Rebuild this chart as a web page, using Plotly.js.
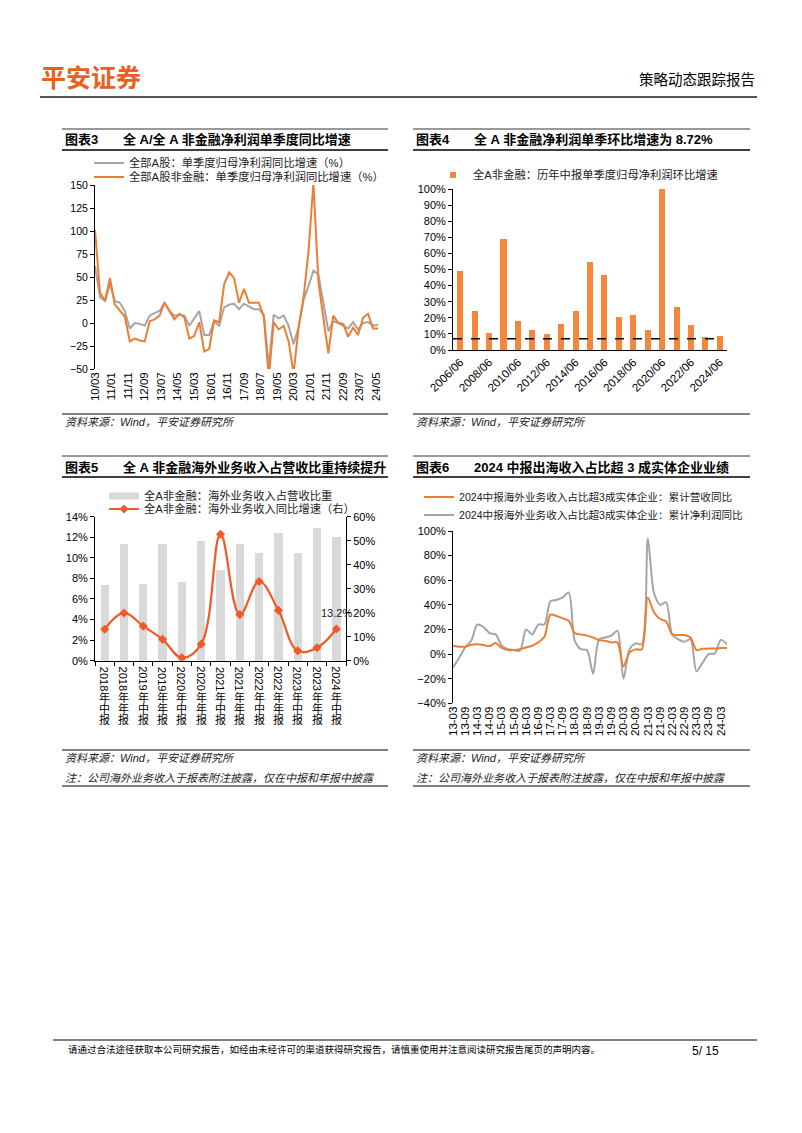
<!DOCTYPE html>
<html>
<head>
<meta charset="utf-8">
<script src="https://cdn.plot.ly/plotly-3.0.1.min.js"></script>
<style>
  body { margin: 0; background: #fff; }
  #page { width: 802px; height: 1133px; }
</style>
</head>
<body>
<div id="page"></div>
<script>
// ---- 图表3: 单季度归母净利润同比增速 (%) ----
const c3Dates = [
  '2010-03', '2010-06', '2010-09', '2010-12', '2011-03', '2011-06', '2011-09', '2011-12',
  '2012-03', '2012-06', '2012-09', '2012-12', '2013-03', '2013-06', '2013-09', '2013-12',
  '2014-03', '2014-06', '2014-09', '2014-12', '2015-03', '2015-06', '2015-09', '2015-12',
  '2016-03', '2016-06', '2016-09', '2016-12', '2017-03', '2017-06', '2017-09', '2017-12',
  '2018-03', '2018-06', '2018-09', '2018-12', '2019-03', '2019-06', '2019-09', '2019-12',
  '2020-03', '2020-06', '2020-09', '2020-12', '2021-03', '2021-06', '2021-09', '2021-12',
  '2022-03', '2022-06', '2022-09', '2022-12', '2023-03', '2023-06', '2023-09', '2023-12',
  '2024-03', '2024-06'
];
const c3AllA = [
  62, 28, 24, 42, 24, 22, 13, -6, 0, -1, -3, 8, 11, 13, 22, 13,
  8, 9, 8, -3, 5, 13, -13, -13, 2, -3, 17, 20, 21, 15, 21, 18,
  15, 15, 9, -47, 9, 5, 8, -3, -23, -5, 25, 40, 57, 53, 22, -9,
  2, 0, -3, -6, 1, -7, 0, 1, -3, -2
];
const c3NonFin = [
  101, 33, 24, 49, 20, 13, 7, -20, -17, -19, -20, 2, 4, 8, 22, 13,
  4, 10, 6, -17, -14, 1, -31, -28, 3, 1, 42, 55, 49, 22, 37, 22,
  22, 22, 7, -60, 1, -7, -3, -20, -55, -5, 28, 78, 152, 45, 5, -33,
  8, 0, -1, -15, -5, -13, 6, 10, -6, -6
];
const c3Ticks = ['10/03', '11/01', '11/11', '12/09', '13/07', '14/05', '15/03', '16/01', '16/11',
  '17/09', '18/07', '19/05', '20/03', '21/01', '21/11', '22/09', '23/07', '24/05'];
const c3Names = ['全部A股：单季度归母净利润同比增速（%）', '全部A股非金融：单季度归母净利润同比增速（%）'];

// ---- 图表4: 历年中报单季度归母净利润环比增速 ----
const c4Years = ['2006/06', '2007/06', '2008/06', '2009/06', '2010/06', '2011/06', '2012/06', '2013/06',
  '2014/06', '2015/06', '2016/06', '2017/06', '2018/06', '2019/06', '2020/06', '2021/06',
  '2022/06', '2023/06', '2024/06'];
const c4Qoq = [49, 24.5, 10.5, 69, 18.3, 12.5, 9.8, 16.3, 24.5, 54.5, 46.5, 20.2, 21.8, 12.5, 100, 26.8, 15.8, 8.0, 8.72];
const c4RefLevel = 7.0;
const c4Name = '全A非金融：历年中报单季度归母净利润环比增速';

// ---- 图表5: 海外业务收入占比 / 同比增速 ----
const c5Periods = ['2018年中报', '2018年年报', '2019年中报', '2019年年报', '2020年中报', '2020年年报',
  '2021年中报', '2021年年报', '2022年中报', '2022年年报', '2023年中报', '2023年年报', '2024年中报'];
const c5Share = [7.35, 11.3, 7.5, 11.3, 7.7, 11.6, 8.8, 11.3, 10.5, 12.4, 10.5, 12.9, 12.0];
const c5Growth = [13.1, 19.9, 14.4, 8.9, 1.2, 6.9, 52.7, 19.2, 33.0, 21.0, 4.1, 5.4, 13.2];
const c5Names = ['全A非金融：海外业务收入占营收比重', '全A非金融：海外业务收入同比增速（右）'];

// ---- 图表6: 出海收入占比超3成实体企业 ----
const c6Dates = [
  '2013-03', '2013-06', '2013-09', '2013-12', '2014-03', '2014-06', '2014-09', '2014-12',
  '2015-03', '2015-06', '2015-09', '2015-12', '2016-03', '2016-06', '2016-09', '2016-12',
  '2017-03', '2017-06', '2017-09', '2017-12', '2018-03', '2018-06', '2018-09', '2018-12',
  '2019-03', '2019-06', '2019-09', '2019-12', '2020-03', '2020-06', '2020-09', '2020-12',
  '2021-03', '2021-06', '2021-09', '2021-12', '2022-03', '2022-06', '2022-09', '2022-12',
  '2023-03', '2023-06', '2023-09', '2023-12', '2024-03', '2024-06'
];
const c6Revenue = [6.8, 6, 6, 7.6, 8, 7.3, 6.5, 9, 5, 3.3, 3.3, 4, 5.4, 6.8, 9.5, 14,
  32, 31, 29, 27, 17, 16, 15, 13.5, 11.4, 10.8, 9.5, 9.5, -10, 1.4, 3.8, 4,
  46, 34, 28.5, 26.5, 16, 15.5, 15.5, 13.5, 3.3, 4.3, 4.6, 4.6, 5, 5];
const c6Profit = [-11, -3, 5.4, 11, 24, 22, 17, 16, 7, 4, 3.3, 2.7, 20, 16, 24, 24,
  43, 44, 46, 50, 11, 4, 3.3, -16, 12, 13.5, 15, 19, -20, 4, 8.7, 8,
  94, 50, 40, 42, 16, 12, 10, 12, -14, -7, 0, 0.5, 11.5, 8];
const c6Ticks = ['13-03', '13-09', '14-03', '14-09', '15-03', '15-09', '16-03', '16-09', '17-03', '17-09',
  '18-03', '18-09', '19-03', '19-09', '20-03', '20-09', '21-03', '21-09', '22-03', '22-09',
  '23-03', '23-09', '24-03'];
const c6Names = ['2024中报海外业务收入占比超3成实体企业：累计营收同比', '2024中报海外业务收入占比超3成实体企业：累计净利润同比'];

// ---- page geometry (pixel -> paper) ----
const W = 802, H = 1133;
const px = (x) => x / W;
const py = (y) => 1 - y / H;
const FONT = 'Liberation Sans, Arial, Noto Sans CJK SC, sans-serif';
const ORANGE = '#ED7D31';
const GREY = '#A5A5A5';

const tickDate = (t) => '20' + t.slice(0, 2) + '-' + t.slice(3) + '-01';
const idx = (arr) => arr.map((_, i) => i);
const bounds = (n) => Array.from({ length: n + 1 }, (_, i) => i - 0.5);

const ax = {
  showgrid: false, zeroline: false, fixedrange: true,
  linecolor: '#000', linewidth: 1, tickcolor: '#000', ticklen: 4,
  tickfont: { size: 11, color: '#000' }
};

const traces = [
  // chart 3
  { type: 'scatter', mode: 'lines', x: c3Dates, y: c3AllA, name: c3Names[0], xaxis: 'x', yaxis: 'y',
    line: { color: GREY, width: 2 }, legend: 'legend' },
  { type: 'scatter', mode: 'lines', x: c3Dates, y: c3NonFin, name: c3Names[1], xaxis: 'x', yaxis: 'y',
    line: { color: ORANGE, width: 2 }, legend: 'legend2' },
  // chart 4
  { type: 'bar', x: idx(c4Years), y: c4Qoq, xaxis: 'x2', yaxis: 'y2', width: 0.42,
    marker: { color: '#F4873A' }, showlegend: false },
  { type: 'scatter', mode: 'lines', x: [-0.5, c4Years.length - 1], y: [c4RefLevel, c4RefLevel],
    xaxis: 'x2', yaxis: 'y2', line: { color: '#000', width: 1.3, dash: 'dash' }, showlegend: false },
  { type: 'scatter', mode: 'markers', x: [null], y: [null], xaxis: 'x2', yaxis: 'y2', name: c4Name,
    marker: { symbol: 'square', size: 6, color: '#F4873A' }, legend: 'legend3' },
  // chart 5
  { type: 'bar', x: idx(c5Periods), y: c5Share, xaxis: 'x3', yaxis: 'y3', width: 0.43,
    marker: { color: '#D9D9D9' }, showlegend: false },
  { type: 'scatter', mode: 'lines', x: [null], y: [null], xaxis: 'x3', yaxis: 'y3', name: c5Names[0],
    line: { color: '#D9D9D9', width: 7 }, legend: 'legend4' },
  { type: 'scatter', mode: 'lines+markers', x: idx(c5Periods), y: c5Growth, xaxis: 'x3', yaxis: 'y4',
    name: c5Names[1], line: { color: '#F05A28', width: 2.2, shape: 'spline', smoothing: 1.1 },
    marker: { symbol: 'diamond', size: 7, color: '#F05A28' }, legend: 'legend5' },
  // chart 6
  { type: 'scatter', mode: 'lines', x: c6Dates, y: c6Profit, name: c6Names[1], xaxis: 'x4', yaxis: 'y5',
    line: { color: GREY, width: 2, shape: 'spline', smoothing: 0.8 }, legend: 'legend7' },
  { type: 'scatter', mode: 'lines', x: c6Dates, y: c6Revenue, name: c6Names[0], xaxis: 'x4', yaxis: 'y5',
    line: { color: ORANGE, width: 2, shape: 'spline', smoothing: 0.8 }, legend: 'legend6' }
];

const legendAt = (x, y, size) => ({
  x: px(x), y: py(y), xanchor: 'left', yanchor: 'middle', bgcolor: 'rgba(0,0,0,0)',
  font: { size: size || 11.3, color: '#222' }, itemwidth: 30, tracegroupgap: 0
});

const c3Range = ['2010-03-01', '2024-06-01'];
const c6Range = ['2013-03-01', '2024-06-01'];

const layout = {
  width: W, height: H,
  margin: { l: 0, r: 0, t: 0, b: 0 },
  paper_bgcolor: '#fff', plot_bgcolor: 'rgba(0,0,0,0)',
  font: { family: FONT, color: '#000' },
  showlegend: true,
  bargap: 0,

  // chart 3
  xaxis: { ...ax, domain: [px(95), px(378)], anchor: 'y', type: 'date', range: c3Range,
    tickmode: 'array', tickvals: c3Ticks.map(tickDate), ticktext: c3Ticks, tickangle: -90,
    showline: false, ticks: '', tickfont: { size: 11.5, color: '#000' } },
  xaxis5: { ...ax, overlaying: 'x', anchor: 'free', position: py(323), type: 'date', range: c3Range,
    tickmode: 'array', tickvals: c3Ticks.map(tickDate), showticklabels: false, showline: true, ticks: 'inside' },
  yaxis: { ...ax, domain: [py(369), py(185)], anchor: 'x', range: [-50, 150], dtick: 25,
    showline: true, ticks: 'outside', tickfont: { size: 10.5, color: '#000' } },

  // chart 4
  xaxis2: { ...ax, domain: [px(453), px(727)], anchor: 'y2', range: [-0.5, 18.5],
    tickmode: 'array', tickvals: idx(c4Years).filter((i) => i % 2 === 0),
    ticktext: c4Years.filter((_, i) => i % 2 === 0), tickangle: -45, showline: true, ticks: '',
    tickfont: { size: 11.5, color: '#000' } },
  xaxis6: { ...ax, overlaying: 'x2', anchor: 'y2', range: [-0.5, 18.5], tickmode: 'array',
    tickvals: bounds(c4Years.length), showticklabels: false, showline: false, ticks: 'outside' },
  yaxis2: { ...ax, domain: [py(350), py(189)], anchor: 'x2', range: [0, 100], dtick: 10,
    ticksuffix: '%', showline: true, ticks: 'outside' },

  // chart 5
  xaxis3: { ...ax, domain: [px(95), px(346)], anchor: 'y3', range: [-0.5, 12.5], tickmode: 'array',
    tickvals: bounds(c5Periods.length), showticklabels: false, showline: true, ticks: 'outside' },
  yaxis3: { ...ax, domain: [py(660.7), py(516.7)], anchor: 'x3', range: [0, 14], dtick: 2,
    ticksuffix: '%', showline: true, ticks: 'outside' },
  yaxis4: { ...ax, overlaying: 'y3', side: 'right', anchor: 'x3', range: [0, 60], dtick: 10,
    ticksuffix: '%', showline: true, ticks: 'outside' },

  // chart 6
  xaxis4: { ...ax, domain: [px(453), px(727)], anchor: 'y5', type: 'date', range: c6Range,
    tickmode: 'array', tickvals: c6Ticks.map(tickDate), ticktext: c6Ticks, tickangle: -90,
    showline: false, ticks: '', tickfont: { size: 11.5, color: '#000' } },
  xaxis7: { ...ax, overlaying: 'x4', anchor: 'free', position: py(654.1), type: 'date', range: c6Range,
    tickmode: 'array', tickvals: c6Ticks.map(tickDate), showticklabels: false, showline: true, ticks: 'inside' },
  yaxis5: { ...ax, domain: [py(703.3), py(531)], anchor: 'x4', range: [-40, 100], dtick: 20,
    ticksuffix: '%', showline: true, ticks: 'outside' },

  legend: legendAt(89, 163),
  legend2: legendAt(89, 177),
  legend3: legendAt(433, 175),
  legend4: legendAt(104, 496),
  legend5: legendAt(104, 509),
  legend6: legendAt(419, 497, 10.6),
  legend7: legendAt(419, 515, 10.6),

  shapes: [],
  annotations: []
};

const hline = (x0, x1, y, color, width) => layout.shapes.push({
  type: 'line', xref: 'paper', yref: 'paper', x0: px(x0), x1: px(x1), y0: py(y), y1: py(y),
  line: { color, width }
});
const text = (x, y, t, opts) => layout.annotations.push({
  xref: 'paper', yref: 'paper', x: px(x), y: py(y), text: t, showarrow: false,
  xanchor: 'left', yanchor: 'middle', font: { size: 11, color: '#000' }, ...opts
});

// header / footer
text(39, 78, '<b>平安证券</b>', { font: { size: 25, color: '#E8601C' } });
text(757, 80, '策略动态跟踪报告', { xanchor: 'right', font: { size: 14.5, color: '#000' } });
hline(40, 757, 97, '#555', 2);
hline(53, 757, 1040, '#000', 1);
text(66, 1049, '请通过合法途径获取本公司研究报告，如经由未经许可的渠道获得研究报告，请慎重使用并注意阅读研究报告尾页的声明内容。',
  { font: { size: 9.5, color: '#000' } });
text(721, 1051, '5/ 15', { xanchor: 'right', font: { size: 12, color: '#000' } });

// chart title blocks
const titleBlock = (x0, x1, yTop, num, title) => {
  hline(x0, x1, yTop, '#000', 0.8);
  hline(x0, x1, yTop + 21, '#000', 1.5);
  text(x0 + 1, yTop + 11, '<b>图表' + num + '</b>', { font: { size: 13, color: '#000' } });
  text(x0 + 59, yTop + 11, '<b>' + title + '</b>', { font: { size: 13, color: '#000' } });
};
titleBlock(62, 388, 129, 3, '全 A/全 A 非金融净利润单季度同比增速');
titleBlock(413, 750, 129, 4, '全 A 非金融净利润单季环比增速为 8.72%');
titleBlock(62, 388, 456, 5, '全 A 非金融海外业务收入占营收比重持续提升');
titleBlock(413, 750, 456, 6, '2024 中报出海收入占比超 3 成实体企业业绩');

// sources
const SRC = '<i>资料来源：Wind，平安证券研究所</i>';
const NOTE = '<i>注：公司海外业务收入于报表附注披露，仅在中报和年报中披露</i>';
hline(62, 388, 414, '#000', 1);
hline(413, 750, 414, '#000', 1);
text(63, 422, SRC, { font: { size: 11, color: '#222' } });
text(414, 422, SRC, { font: { size: 11, color: '#222' } });
hline(62, 388, 750, '#000', 1);
hline(413, 750, 750, '#000', 1);
text(63, 758, SRC, { font: { size: 11, color: '#222' } });
text(414, 758, SRC, { font: { size: 11, color: '#222' } });
text(63, 778, NOTE, { font: { size: 11, color: '#222' } });
text(414, 778, NOTE, { font: { size: 11, color: '#222' } });
hline(62, 388, 786, '#000', 1);
hline(413, 750, 786, '#000', 1);

// chart 5 category labels: year rotated, rest stacked upright
c5Periods.forEach((p, i) => {
  layout.annotations.push({ xref: 'x3', yref: 'paper', x: i, y: py(678.5), text: p.slice(0, 4),
    textangle: 90, showarrow: false, font: { size: 11, color: '#000' } });
  Array.from(p.slice(4)).forEach((ch, k) => {
    layout.annotations.push({ xref: 'x3', yref: 'paper', x: i, y: py(697.5 + 11 * k), text: ch,
      showarrow: false, font: { size: 11, color: '#000' } });
  });
});
const lastI = c5Growth.length - 1;
layout.annotations.push({ xref: 'x3', yref: 'y4', x: lastI, y: c5Growth[lastI], yshift: 16,
  text: c5Growth[lastI].toFixed(1) + '%', showarrow: false, font: { size: 11, color: '#222' } });

Plotly.newPlot('page', traces, layout, { staticPlot: true, displayModeBar: false });
</script>
</body>
</html>
